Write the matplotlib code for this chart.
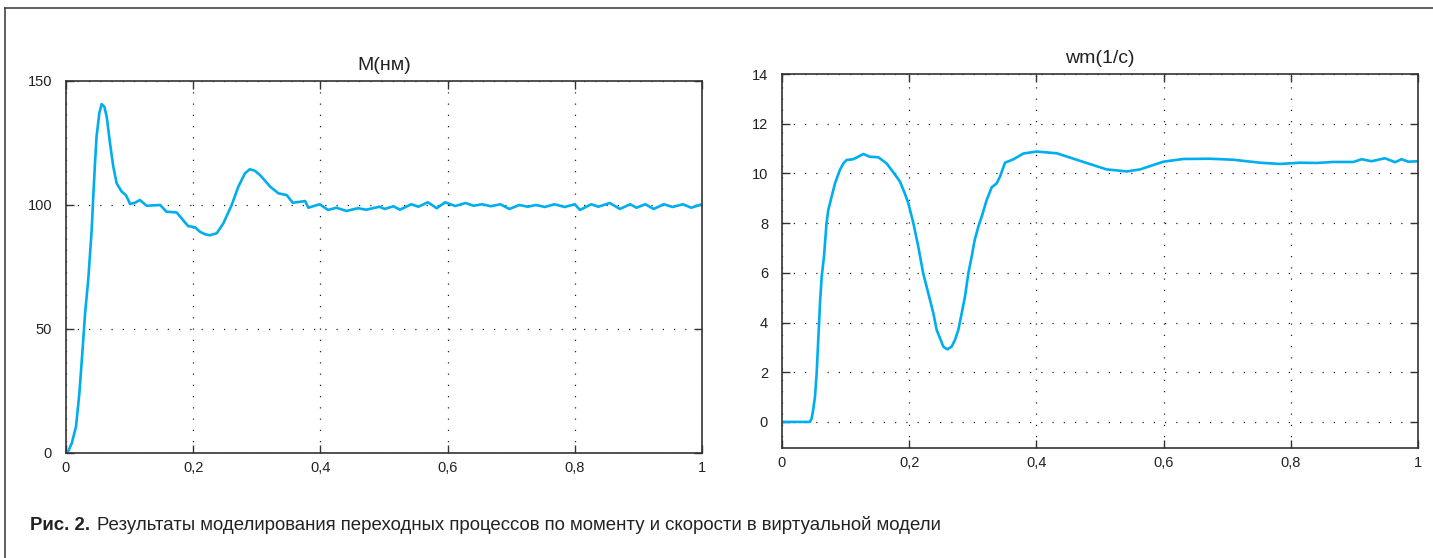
import matplotlib
matplotlib.use("Agg")
import matplotlib.pyplot as plt
from matplotlib.lines import Line2D
from matplotlib.ticker import FuncFormatter

# torque M(t)
t_m = [0.0, 0.004, 0.009, 0.0157, 0.021, 0.026, 0.030, 0.035, 0.0404, 0.043,
       0.0456, 0.048, 0.0524, 0.056, 0.0603, 0.064, 0.0692, 0.0744, 0.0797,
       0.0875, 0.094, 0.098, 0.1006, 0.1085, 0.116, 0.127, 0.148, 0.158, 0.174,
       0.192, 0.203, 0.2107, 0.2186, 0.226, 0.237, 0.2474, 0.2605, 0.271,
       0.2814, 0.289, 0.297, 0.305, 0.321, 0.334, 0.347,
       0.3565, 0.368, 0.376, 0.381, 0.399, 0.412, 0.425, 0.441, 0.459, 0.472,
       0.493, 0.501, 0.515, 0.525, 0.543, 0.554, 0.569, 0.583, 0.596, 0.612,
       0.628, 0.641, 0.654, 0.668, 0.683, 0.697, 0.713, 0.726, 0.739, 0.753,
       0.768, 0.784, 0.800, 0.808, 0.826, 0.837, 0.855, 0.871, 0.887, 0.897,
       0.911, 0.924, 0.940, 0.954, 0.970, 0.983, 1.0]
m_val = [0.0, 1.0, 3.9, 10.6, 24.0, 41.5, 56.3, 70.0, 90.0, 104.0,
         116.8, 127.5, 137.0, 140.7, 139.6, 135.6, 124.9, 115.4, 108.7,
         105.4, 104.0, 102.0, 100.4, 100.9, 102.0, 99.7, 100.0, 97.3, 97.0,
         91.5, 91.0, 89.2, 88.2, 87.8, 88.6, 92.6, 100.0, 107.4,
         112.8, 114.4, 113.8, 112.1, 107.4, 104.7, 104.0,
         100.9, 101.3, 101.6, 98.9, 100.3, 98.0, 98.9, 97.6, 98.7, 98.1,
         99.3, 98.4, 99.5, 98.1, 100.3, 99.3, 101.1, 98.7, 101.1, 99.6,
         100.8, 99.7, 100.3, 99.5, 100.3, 98.4, 100.0, 99.3, 100.0, 99.2,
         100.3, 99.2, 100.3, 98.0, 100.3, 99.3, 100.8, 98.4, 100.3, 98.9,
         100.3, 98.4, 100.3, 99.2, 100.3, 98.9, 100.3]

# speed wm(t)
t_w = [0.0, 0.044, 0.0467, 0.049, 0.0519, 0.0545, 0.057, 0.060, 0.0624, 0.066,
       0.070, 0.0728, 0.078, 0.0833, 0.091, 0.0964, 0.1017,
       0.112, 0.128, 0.138, 0.1514, 0.1646, 0.180, 0.1855, 0.193, 0.1986,
       0.2065, 0.2143, 0.222, 0.230, 0.238, 0.2432, 0.2484, 0.2536, 0.260,
       0.2667, 0.272, 0.2772, 0.2825, 0.2877, 0.293, 0.2982, 0.303, 0.3087,
       0.314, 0.3218, 0.3297, 0.3376, 0.3428, 0.3506,
       0.364, 0.3795, 0.4004, 0.432, 0.474, 0.5105, 0.542, 0.563, 0.5995, 0.631,
       0.673, 0.7096, 0.7516, 0.783, 0.8145, 0.8407, 0.8669, 0.8983, 0.9115,
       0.927, 0.948, 0.964, 0.974, 0.985, 1.0]
w_val = [0.0, 0.0, 0.15, 0.48, 1.02, 1.96, 3.3, 4.9, 5.85, 6.65,
         8.0, 8.53, 9.06, 9.6, 10.14, 10.4, 10.54,
         10.57, 10.78, 10.67, 10.65, 10.4, 9.87, 9.67, 9.2, 8.8,
         8.0, 7.05, 5.98, 5.18, 4.37, 3.7, 3.37, 3.03, 2.92,
         3.03, 3.3, 3.7, 4.37, 5.04, 5.98, 6.65, 7.32, 7.86,
         8.26, 8.93, 9.44, 9.6, 9.87, 10.43,
         10.57, 10.8, 10.88, 10.81, 10.46, 10.16, 10.08, 10.16, 10.47, 10.58,
         10.59, 10.55, 10.43, 10.38, 10.43, 10.42, 10.46, 10.46, 10.57,
         10.49, 10.61, 10.45, 10.57, 10.47, 10.49]

x_ticks = [0, 0.2, 0.4, 0.6, 0.8, 1.0]
m_ticks = [0, 50, 100, 150]
w_ticks = [0, 2, 4, 6, 8, 10, 12, 14]

LINE = "#00AEEF"
INK = "#333333"

plt.rcParams["font.family"] = ["Liberation Sans", "DejaVu Sans"]


def comma(v, _pos):
    s = f"{v:g}"
    return s.replace(".", ",")


def style(ax, title, yticks):
    ax.set_xlim(0, 1)
    ax.set_xticks(x_ticks)
    ax.set_yticks(yticks)
    ax.xaxis.set_major_formatter(FuncFormatter(comma))
    ax.tick_params(direction="in", length=6, width=1.0, color=INK,
                   top=True, right=True, labelsize=10.5, labelcolor="#222222")
    ax.tick_params(axis="y", pad=10)
    ax.tick_params(axis="x", pad=6)
    ax.grid(True, color="#222222", linestyle=(0, (1, 8)), linewidth=0.9)
    for sp in ax.spines.values():
        sp.set_color(INK)
        sp.set_linewidth(1.2)
    ax.set_title(title, fontsize=14, pad=8, color="#222222")


fig = plt.figure(figsize=(14.33, 5.58), dpi=100)

ax1 = fig.add_axes([66 / 1433, 1 - 453 / 558, 636 / 1433, 372 / 558])
ax1.plot(t_m, m_val, color=LINE, linewidth=1.9, solid_joinstyle="round")
ax1.set_ylim(0, 150)
style(ax1, "M(нм)", m_ticks)

ax2 = fig.add_axes([782 / 1433, 1 - 448 / 558, 636 / 1433, 374 / 558])
ax2.plot(t_w, w_val, color=LINE, linewidth=1.9, solid_joinstyle="round")
ax2.set_ylim(-1.05, 14)
style(ax2, "wm(1/с)", w_ticks)

# outer frame (only top and left edges visible in the crop)
fx, fy = 5 / 1433, 1 - 8 / 558
fig.add_artist(Line2D([fx, 1.0], [fy, fy], color="#444444", linewidth=1.2,
                      transform=fig.transFigure))
fig.add_artist(Line2D([fx, fx], [0.0, fy], color="#444444", linewidth=1.2,
                      transform=fig.transFigure))

# caption
cap_y = 1 - 525 / 558
t1 = fig.text(30 / 1433, cap_y, "Рис. 2.", fontsize=13.4, fontweight="bold",
              va="center", ha="left", color="#222222")
fig.canvas.draw()
bb = t1.get_window_extent()
fig.text((bb.x1 + 7) / 1433, cap_y,
         "Результаты моделирования переходных процессов по моменту и скорости в виртуальной модели",
         fontsize=13.4, va="center", ha="left", color="#222222")

fig.savefig("out.png", dpi=100)
